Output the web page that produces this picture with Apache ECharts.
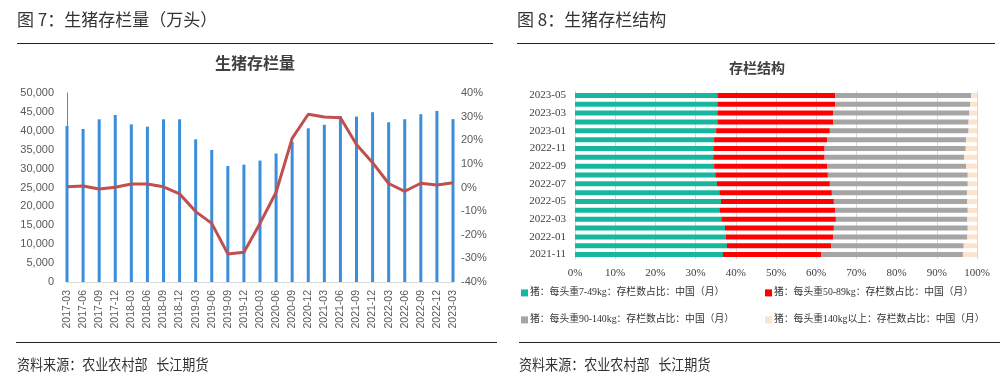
<!DOCTYPE html>
<html><head><meta charset="utf-8">
<script src="https://cdn.jsdelivr.net/npm/echarts@6/dist/echarts.min.js"></script>
<style>html,body{margin:0;padding:0;background:#fff}#c{width:1000px;height:387px}</style>
</head><body><div id="c"></div>
<script>
// ---- Left chart: 生猪存栏量 ----
const quarters = ['2017-03','2017-06','2017-09','2017-12','2018-03','2018-06','2018-09','2018-12',
  '2019-03','2019-06','2019-09','2019-12','2020-03','2020-06','2020-09','2020-12',
  '2021-03','2021-06','2021-09','2021-12','2022-03','2022-06','2022-09','2022-12','2023-03'];
const hogInventory = [41270,40480,43040,44180,41720,41090,43040,43040,37750,34920,30680,31040,
  32120,34000,37040,40650,41600,43910,43760,44920,42250,43060,44390,45260,43090];
const hogYoY = [0.3,0.6,-0.6,0.1,1.5,1.5,0.3,-2.7,-10.2,-15.2,-28.1,-27.4,
  -15.2,-2.0,20.8,31.0,29.8,29.5,18.2,10.5,1.7,-1.6,1.8,1.1,2.0];
const leftAxisRange = [0, 50000, 5000];
const rightAxisRange = [-40, 40, 10];

// ---- Right chart: 存栏结构 ----
const months = ['2021-11','2021-12','2022-01','2022-02','2022-03','2022-04','2022-05','2022-06',
  '2022-07','2022-08','2022-09','2022-10','2022-11','2022-12','2023-01','2023-02','2023-03','2023-04','2023-05'];
const share7to49   = [36.8,37.8,37.5,37.3,36.4,35.9,36.3,35.9,35.3,34.9,34.6,34.4,34.4,34.6,35.1,35.4,35.4,35.4,35.4];
const share50to89  = [24.5,25.9,26.7,27.1,28.5,28.9,28.1,28.0,28.1,28.0,28.1,27.7,27.7,28.1,28.3,28.8,28.8,29.3,29.3];
const share90to140 = [35.2,33.0,33.4,33.3,32.7,32.9,33.2,33.6,34.3,34.8,34.6,34.7,35.1,34.6,34.5,33.7,33.9,33.6,33.8];
const share140plus = [3.5,3.3,2.4,2.3,2.4,2.3,2.4,2.5,2.3,2.3,2.7,3.2,2.8,2.7,2.1,2.1,1.9,1.7,1.5];
const structNames = ['猪：每头重7-49kg：存栏数占比：中国（月）','猪：每头重50-89kg：存栏数占比：中国（月）',
  '猪：每头重90-140kg：存栏数占比：中国（月）','猪：每头重140kg以上：存栏数占比：中国（月）'];
const structColors = ['#17B79F','#FF0000','#A5A5A5','#FCE3CB'];
const structData = [share7to49, share50to89, share90to140, share140plus];

const cjk = '"Noto Sans CJK SC", sans-serif';
const serif = '"Liberation Serif", "Noto Sans CJK SC", serif';
const chart = echarts.init(document.getElementById('c'), null, {renderer:'canvas'});

const legendPos = [[516,283],[760,283],[516,310],[760,310]];
const option = {
  animation:false,
  backgroundColor:'#fff',
  grid:[
    {left:67, right:547, top:93, bottom:105},
    {left:575, right:23, top:91, bottom:128}
  ],
  xAxis:[
    {type:'category', gridIndex:0, data:quarters, boundaryGap:false,
     axisLine:{lineStyle:{color:'#D9D9D9'}}, axisTick:{show:false},
     axisLabel:{rotate:90, interval:0, fontSize:10.5, color:'#595959', fontFamily:'"Liberation Sans", sans-serif', margin:8}},
    {type:'value', gridIndex:1, min:0, max:100, interval:10,
     axisLine:{show:false}, axisTick:{show:false},
     splitLine:{lineStyle:{color:'#D9D9D9'}},
     axisLabel:{formatter:'{value}%', fontSize:11, color:'#404040', fontFamily:serif, margin:9}}
  ],
  yAxis:[
    {type:'value', gridIndex:0, min:leftAxisRange[0], max:leftAxisRange[1], interval:leftAxisRange[2],
     axisLine:{show:true, lineStyle:{color:'#3B8FD9'}}, axisTick:{show:false}, splitLine:{show:false},
     axisLabel:{formatter:v=>v.toLocaleString('en-US'), fontSize:11, color:'#595959', fontFamily:'"Liberation Sans", sans-serif', margin:13}},
    {type:'value', gridIndex:0, position:'right', min:rightAxisRange[0], max:rightAxisRange[1], interval:rightAxisRange[2],
     axisLine:{show:false}, axisTick:{show:false}, splitLine:{show:false},
     axisLabel:{formatter:'{value}%', fontSize:11, color:'#595959', fontFamily:'"Liberation Sans", sans-serif', margin:8}},
    {type:'category', gridIndex:1, data:months,
     axisLine:{lineStyle:{color:'#D9D9D9'}}, axisTick:{show:false},
     axisLabel:{interval:1, fontSize:11, color:'#404040', fontFamily:serif, margin:9}}
  ],
  legend: structNames.map((n,i)=>({
    data:[n], left:legendPos[i][0], top:legendPos[i][1], itemWidth:7, itemHeight:7, itemGap:4,
    icon:'rect', textStyle:{fontSize:9.8, color:'#333', fontFamily:serif, padding:[0,0,0,-3]}
  })),
  series:[
    {type:'bar', name:'生猪存栏量', xAxisIndex:0, yAxisIndex:0, data:hogInventory, barWidth:3,
     itemStyle:{color:'#3A8EDA'}},
    {type:'line', name:'同比', xAxisIndex:0, yAxisIndex:1, data:hogYoY, showSymbol:false,
     lineStyle:{color:'#C0504D', width:3}, itemStyle:{color:'#C0504D'}},
    ...structData.map((d,i)=>({
      type:'bar', name:structNames[i], xAxisIndex:1, yAxisIndex:2, stack:'s', data:d, barWidth:5,
      itemStyle:{color:structColors[i]}
    }))
  ],
  graphic:[
    {type:'text', x:17, y:20, style:{text:'图 7：生猪存栏量（万头）', font:'17px '+cjk, fill:'#333', textVerticalAlign:'middle'}},
    {type:'text', x:517, y:20, style:{text:'图 8：生猪存栏结构', font:'17px '+cjk, fill:'#333', textVerticalAlign:'middle'}},
    {type:'line', shape:{x1:17,y1:43.5,x2:493,y2:43.5}, style:{stroke:'#222', lineWidth:1}},
    {type:'line', shape:{x1:517,y1:43.5,x2:995,y2:43.5}, style:{stroke:'#222', lineWidth:1}},
    {type:'text', x:255, y:63, style:{text:'生猪存栏量', font:'bold 16px '+cjk, fill:'#404040', textAlign:'center', textVerticalAlign:'middle'}},
    {type:'text', x:757, y:68, style:{text:'存栏结构', font:'bold 14px '+cjk, fill:'#404040', textAlign:'center', textVerticalAlign:'middle'}},
    {type:'line', shape:{x1:16,y1:342.5,x2:497,y2:342.5}, style:{stroke:'#222', lineWidth:1}},
    {type:'line', shape:{x1:519,y1:342.5,x2:1000,y2:342.5}, style:{stroke:'#222', lineWidth:1}},
    {type:'text', x:17, y:364, scaleX:0.87, style:{text:'资料来源：农业农村部   长江期货', font:'15px '+cjk, fill:'#333', textVerticalAlign:'middle'}},
    {type:'text', x:519, y:364, scaleX:0.87, style:{text:'资料来源：农业农村部   长江期货', font:'15px '+cjk, fill:'#333', textVerticalAlign:'middle'}}
  ]
};
chart.setOption(option);
</script>
</body></html>
